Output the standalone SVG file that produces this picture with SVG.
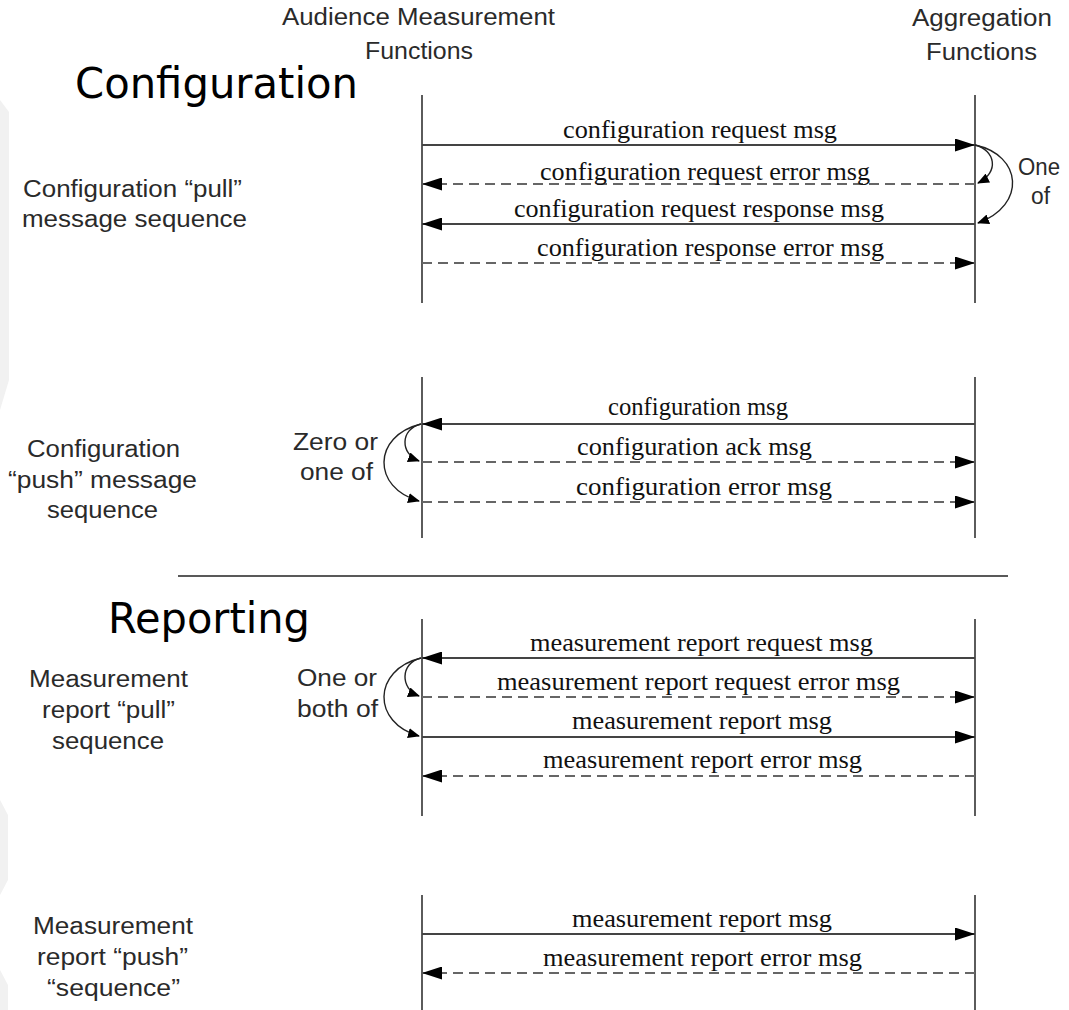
<svg xmlns="http://www.w3.org/2000/svg" width="1069" height="1010" viewBox="0 0 1069 1010">
  <defs>
    <marker id="head" markerUnits="userSpaceOnUse" markerWidth="20" markerHeight="13" refX="20" refY="6.5" orient="auto">
      <path d="M0,0 L20,6.5 L0,13 Z" fill="#000"/>
    </marker>
    <marker id="headSmall" markerUnits="userSpaceOnUse" markerWidth="12" markerHeight="10" refX="11" refY="5" orient="auto">
      <path d="M0,0 L12,5 L0,10 Z" fill="#000"/>
    </marker>
    <style>
      .life { stroke: #333; stroke-width: 1.6; fill: none; }
      .msg { stroke: #444; stroke-width: 2; fill: none; marker-end: url(#head); }
      .dash { stroke: #666; stroke-width: 2; fill: none; stroke-dasharray: 10 6; marker-end: url(#head); }
      .choice { stroke: #222; stroke-width: 1.4; fill: none; marker-end: url(#headSmall); }
      .lbl { font-family: "Liberation Serif", "Times New Roman", serif; font-size: 25px; fill: #111; }
      .side { font-family: "Liberation Sans", Arial, sans-serif; font-size: 23px; fill: #2a2a2a; }
      .head { font-family: "Liberation Sans", Arial, sans-serif; font-size: 23px; fill: #2a2a2a; }
      .title { font-family: "DejaVu Sans", Verdana, sans-serif; font-size: 42px; fill: #000; }
      .bg { fill: #f1f1f1; }
    </style>
  </defs>

  <rect width="1069" height="1010" fill="#fff"/>

  <!-- faint backdrop shapes along the left edge -->
  <g id="backdrop">
    <polygon class="bg" points="0,100 9,112 9,380 0,410"/>
    <polygon class="bg" points="0,800 8,815 8,880 0,895"/>
    <polygon class="bg" points="0,970 8,985 8,1010 0,1010"/>
  </g>

  <!-- column headings -->
  <g id="hdr-amf">
    <text class="head" x="282" y="25" textLength="273" lengthAdjust="spacingAndGlyphs">Audience Measurement</text>
    <text class="head" x="365" y="59" textLength="108" lengthAdjust="spacingAndGlyphs">Functions</text>
  </g>
  <g id="hdr-agg">
    <text class="head" x="912" y="26" textLength="140" lengthAdjust="spacingAndGlyphs">Aggregation</text>
    <text class="head" x="926" y="60" textLength="111" lengthAdjust="spacingAndGlyphs">Functions</text>
  </g>

  <!-- section titles -->
  <g id="title-config">
    <text class="title" x="75" y="98" textLength="283" lengthAdjust="spacingAndGlyphs">Configuration</text>
  </g>
  <g id="title-report">
    <text class="title" x="108" y="633" textLength="202" lengthAdjust="spacingAndGlyphs">Reporting</text>
  </g>

  <!-- sequence labels -->
  <g id="lbl-config-pull">
    <text class="side" x="23" y="197" textLength="219" lengthAdjust="spacingAndGlyphs">Configuration “pull”</text>
    <text class="side" x="22" y="227" textLength="225" lengthAdjust="spacingAndGlyphs">message sequence</text>
  </g>
  <g id="lbl-config-push">
    <text class="side" x="27" y="457" textLength="153" lengthAdjust="spacingAndGlyphs">Configuration</text>
    <text class="side" x="8" y="488" textLength="189" lengthAdjust="spacingAndGlyphs">“push” message</text>
    <text class="side" x="47" y="518" textLength="111" lengthAdjust="spacingAndGlyphs">sequence</text>
  </g>
  <g id="lbl-report-pull">
    <text class="side" x="29" y="687" textLength="159" lengthAdjust="spacingAndGlyphs">Measurement</text>
    <text class="side" x="42" y="718" textLength="133" lengthAdjust="spacingAndGlyphs">report “pull”</text>
    <text class="side" x="52" y="749" textLength="112" lengthAdjust="spacingAndGlyphs">sequence</text>
  </g>
  <g id="lbl-report-push">
    <text class="side" x="33" y="934" textLength="160" lengthAdjust="spacingAndGlyphs">Measurement</text>
    <text class="side" x="37" y="965" textLength="151" lengthAdjust="spacingAndGlyphs">report “push”</text>
    <text class="side" x="47" y="996" textLength="133" lengthAdjust="spacingAndGlyphs">“sequence”</text>
  </g>

  <!-- choice annotations -->
  <g id="note-one-of">
    <text class="side" x="1018" y="175" textLength="42" lengthAdjust="spacingAndGlyphs">One</text>
    <text class="side" x="1031" y="204" textLength="19" lengthAdjust="spacingAndGlyphs">of</text>
  </g>
  <g id="note-zero-or-one">
    <text class="side" x="293" y="450" textLength="85" lengthAdjust="spacingAndGlyphs">Zero or</text>
    <text class="side" x="300" y="480" textLength="73" lengthAdjust="spacingAndGlyphs">one of</text>
  </g>
  <g id="note-one-or-both">
    <text class="side" x="297" y="686" textLength="80" lengthAdjust="spacingAndGlyphs">One or</text>
    <text class="side" x="297" y="717" textLength="81" lengthAdjust="spacingAndGlyphs">both of</text>
  </g>

  <!-- separator between configuration and reporting -->
  <line x1="178" y1="576" x2="1008" y2="576" stroke="#222" stroke-width="1.6"/>

  <!-- lifelines -->
  <g id="lifelines">
    <line class="life" x1="422" y1="95" x2="422" y2="303"/>
    <line class="life" x1="975" y1="95" x2="975" y2="303"/>
    <line class="life" x1="422" y1="377" x2="422" y2="538"/>
    <line class="life" x1="975" y1="377" x2="975" y2="538"/>
    <line class="life" x1="422" y1="619" x2="422" y2="816"/>
    <line class="life" x1="975" y1="619" x2="975" y2="816"/>
    <line class="life" x1="422" y1="895" x2="422" y2="1010"/>
    <line class="life" x1="975" y1="895" x2="975" y2="1010"/>
  </g>

  <!-- messages -->
  <g id="connectors">
    <!-- configuration pull -->
    <line class="msg" x1="422" y1="145" x2="975" y2="145"/>
    <line class="dash" x1="975" y1="184" x2="422" y2="184"/>
    <line class="msg" x1="975" y1="224" x2="422" y2="224"/>
    <line class="dash" x1="422" y1="263" x2="975" y2="263"/>
    <path class="choice" d="M975,145 C995,150 1000,172 978,183"/>
    <path class="choice" d="M975,145 C1022,155 1027,205 978,223"/>

    <!-- configuration push -->
    <line class="msg" x1="975" y1="424" x2="422" y2="424"/>
    <line class="dash" x1="422" y1="462" x2="975" y2="462"/>
    <line class="dash" x1="422" y1="502" x2="975" y2="502"/>
    <path class="choice" d="M421,424 C400,429 400,454 419,461"/>
    <path class="choice" d="M421,424 C372,436 372,488 419,501"/>

    <!-- measurement report pull -->
    <line class="msg" x1="975" y1="658" x2="422" y2="658"/>
    <line class="dash" x1="422" y1="697" x2="975" y2="697"/>
    <line class="msg" x1="422" y1="737" x2="975" y2="737"/>
    <line class="dash" x1="975" y1="776" x2="422" y2="776"/>
    <path class="choice" d="M421,658 C400,663 400,689 419,696"/>
    <path class="choice" d="M421,658 C372,670 372,723 419,736"/>

    <!-- measurement report push -->
    <line class="msg" x1="422" y1="934" x2="975" y2="934"/>
    <line class="dash" x1="975" y1="973" x2="422" y2="973"/>
  </g>

  <!-- message labels -->
  <g id="msg-labels">
    <text class="lbl" x="563" y="138" textLength="274" lengthAdjust="spacingAndGlyphs">configuration request msg</text>
    <text class="lbl" x="540" y="180" textLength="330" lengthAdjust="spacingAndGlyphs">configuration request error msg</text>
    <text class="lbl" x="514" y="217" textLength="370" lengthAdjust="spacingAndGlyphs">configuration request response msg</text>
    <text class="lbl" x="537" y="256" textLength="347" lengthAdjust="spacingAndGlyphs">configuration response error msg</text>

    <text class="lbl" x="608" y="415" textLength="180" lengthAdjust="spacingAndGlyphs">configuration msg</text>
    <text class="lbl" x="577" y="455" textLength="235" lengthAdjust="spacingAndGlyphs">configuration ack msg</text>
    <text class="lbl" x="576" y="495" textLength="256" lengthAdjust="spacingAndGlyphs">configuration error msg</text>

    <text class="lbl" x="530" y="651" textLength="343" lengthAdjust="spacingAndGlyphs">measurement report request msg</text>
    <text class="lbl" x="497" y="690" textLength="403" lengthAdjust="spacingAndGlyphs">measurement report request error msg</text>
    <text class="lbl" x="572" y="729" textLength="260" lengthAdjust="spacingAndGlyphs">measurement report msg</text>
    <text class="lbl" x="543" y="768" textLength="319" lengthAdjust="spacingAndGlyphs">measurement report error msg</text>

    <text class="lbl" x="572" y="927" textLength="260" lengthAdjust="spacingAndGlyphs">measurement report msg</text>
    <text class="lbl" x="543" y="966" textLength="319" lengthAdjust="spacingAndGlyphs">measurement report error msg</text>
  </g>
</svg>
